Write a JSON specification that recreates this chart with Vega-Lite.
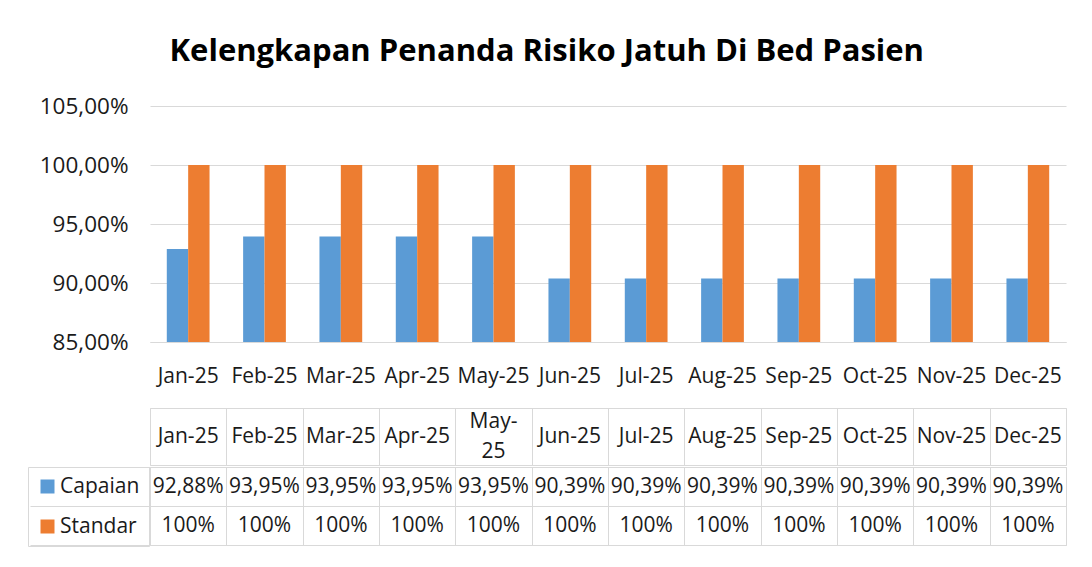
{
  "$schema": "https://vega.github.io/schema/vega-lite/v6.json",
  "padding": {"left": 27, "top": 36, "right": 10, "bottom": 10},
  "background": "white",
  "config": {"font": "Open Sans", "view": {"stroke": null}},
  "title": {"text": "Kelengkapan Penanda Risiko Jatuh Di Bed Pasien", "fontSize": 31, "fontWeight": "bold", "color": "#000000", "anchor": "middle", "offset": 27},
  "datasets": {
    "vals": [
      {"month": "Jan-25", "series": "Capaian", "value": 92.88, "text": "92,88%"},
      {"month": "Feb-25", "series": "Capaian", "value": 93.95, "text": "93,95%"},
      {"month": "Mar-25", "series": "Capaian", "value": 93.95, "text": "93,95%"},
      {"month": "Apr-25", "series": "Capaian", "value": 93.95, "text": "93,95%"},
      {"month": "May-25", "series": "Capaian", "value": 93.95, "text": "93,95%"},
      {"month": "Jun-25", "series": "Capaian", "value": 90.39, "text": "90,39%"},
      {"month": "Jul-25", "series": "Capaian", "value": 90.39, "text": "90,39%"},
      {"month": "Aug-25", "series": "Capaian", "value": 90.39, "text": "90,39%"},
      {"month": "Sep-25", "series": "Capaian", "value": 90.39, "text": "90,39%"},
      {"month": "Oct-25", "series": "Capaian", "value": 90.39, "text": "90,39%"},
      {"month": "Nov-25", "series": "Capaian", "value": 90.39, "text": "90,39%"},
      {"month": "Dec-25", "series": "Capaian", "value": 90.39, "text": "90,39%"},
      {"month": "Jan-25", "series": "Standar", "value": 100, "text": "100%"},
      {"month": "Feb-25", "series": "Standar", "value": 100, "text": "100%"},
      {"month": "Mar-25", "series": "Standar", "value": 100, "text": "100%"},
      {"month": "Apr-25", "series": "Standar", "value": 100, "text": "100%"},
      {"month": "May-25", "series": "Standar", "value": 100, "text": "100%"},
      {"month": "Jun-25", "series": "Standar", "value": 100, "text": "100%"},
      {"month": "Jul-25", "series": "Standar", "value": 100, "text": "100%"},
      {"month": "Aug-25", "series": "Standar", "value": 100, "text": "100%"},
      {"month": "Sep-25", "series": "Standar", "value": 100, "text": "100%"},
      {"month": "Oct-25", "series": "Standar", "value": 100, "text": "100%"},
      {"month": "Nov-25", "series": "Standar", "value": 100, "text": "100%"},
      {"month": "Dec-25", "series": "Standar", "value": 100, "text": "100%"}
    ],
    "months": [
      {"month": "Jan-25", "label": "Jan-25"},
      {"month": "Feb-25", "label": "Feb-25"},
      {"month": "Mar-25", "label": "Mar-25"},
      {"month": "Apr-25", "label": "Apr-25"},
      {"month": "May-25", "label": "May-\n25"},
      {"month": "Jun-25", "label": "Jun-25"},
      {"month": "Jul-25", "label": "Jul-25"},
      {"month": "Aug-25", "label": "Aug-25"},
      {"month": "Sep-25", "label": "Sep-25"},
      {"month": "Oct-25", "label": "Oct-25"},
      {"month": "Nov-25", "label": "Nov-25"},
      {"month": "Dec-25", "label": "Dec-25"}
    ]
  },
  "resolve": {"scale": {"x": "independent", "y": "independent", "color": "independent"}, "legend": {"color": "independent"}},
  "spacing": 21,
  "vconcat": [
    {
      "width": 916,
      "height": 236,
      "data": {"name": "vals"},
      "mark": {"type": "bar", "clip": true},
      "encoding": {
        "x": {"field": "month", "type": "nominal", "sort": ["Jan-25","Feb-25","Mar-25","Apr-25","May-25","Jun-25","Jul-25","Aug-25","Sep-25","Oct-25","Nov-25","Dec-25"], "scale": {"paddingInner": 0.44, "paddingOuter": 0.22},
          "axis": {"title": null, "labelAngle": 0, "labelFontSize": 21, "labelColor": "#1a1a1a", "ticks": false, "domainColor": "#d9d9d9", "labelPadding": 23}},
        "xOffset": {"field": "series", "type": "nominal", "sort": ["Capaian", "Standar"], "scale": {"paddingInner": 0, "paddingOuter": 0}},
        "y": {"field": "value", "type": "quantitative", "scale": {"domain": [85, 105], "zero": false, "nice": false},
          "axis": {"title": null, "values": [85, 90, 95, 100, 105], "labelExpr": "replace(format(datum.value/100,'.2%'),'.',',')", "gridColor": "#d9d9d9", "domain": false, "ticks": false, "labelFontSize": 22.5, "labelColor": "#1a1a1a", "labelPadding": 22}},
        "y2": {"datum": 85},
        "color": {"field": "series", "type": "nominal", "scale": {"domain": ["Capaian", "Standar"], "range": ["#5B9BD5", "#ED7D31"]}, "legend": null}
      }
    },
    {
      "spacing": 0,
      "resolve": {"scale": {"color": "independent"}, "legend": {"color": "independent"}},
      "vconcat": [
        {
          "width": 916,
          "height": 57,
          "view": {"stroke": "#d9d9d9"},
          "data": {"name": "months"},
          "mark": {"type": "text", "fontSize": 21, "color": "#1a1a1a", "lineBreak": "\n", "lineHeight": 30, "baseline": "middle", "dy": {"expr": "datum.month === 'May-25' ? -15 : 0"}},
          "encoding": {
            "x": {"field": "month", "type": "nominal", "sort": ["Jan-25","Feb-25","Mar-25","Apr-25","May-25","Jun-25","Jul-25","Aug-25","Sep-25","Oct-25","Nov-25","Dec-25"], "scale": {"paddingInner": 0, "paddingOuter": 0},
              "axis": {"title": null, "labels": false, "ticks": false, "domain": false, "grid": true, "tickBand": "extent", "gridColor": "#d9d9d9"}},
            "text": {"field": "label"}
          }
        },
        {
          "width": 916,
          "height": 78,
          "view": {"stroke": "#d9d9d9"},
          "data": {"name": "vals"},
          "encoding": {
            "x": {"field": "month", "type": "nominal", "sort": ["Jan-25","Feb-25","Mar-25","Apr-25","May-25","Jun-25","Jul-25","Aug-25","Sep-25","Oct-25","Nov-25","Dec-25"], "scale": {"paddingInner": 0, "paddingOuter": 0},
              "axis": {"title": null, "labels": false, "ticks": false, "domain": false, "grid": true, "tickBand": "extent", "gridColor": "#d9d9d9"}},
            "y": {"field": "series", "type": "nominal", "sort": ["Capaian", "Standar"], "scale": {"paddingInner": 0, "paddingOuter": 0},
              "axis": {"title": null, "labels": false, "ticks": true, "tickSize": 120, "tickColor": "#d9d9d9", "domain": false, "grid": true, "tickBand": "extent", "gridColor": "#d9d9d9"}}
          },
          "layer": [
            {
              "mark": {"type": "text", "fontSize": 21, "color": "#1a1a1a", "baseline": "middle"},
              "encoding": {"text": {"field": "text"}}
            },
            {
              "mark": {"type": "square", "opacity": 0},
              "encoding": {
                "color": {"field": "series", "type": "nominal", "scale": {"domain": ["Capaian", "Standar"], "range": ["#5B9BD5", "#ED7D31"]},
                  "legend": {"orient": "left", "title": null, "symbolType": "square", "symbolSize": 196, "symbolOpacity": 1, "symbolStrokeWidth": 0, "labelFontSize": 21, "labelColor": "#1a1a1a", "rowPadding": 18, "padding": 9, "strokeColor": "#d9d9d9", "offset": -120, "labelOffset": 2}}
              }
            }
          ]
        }
      ]
    }
  ]
}
